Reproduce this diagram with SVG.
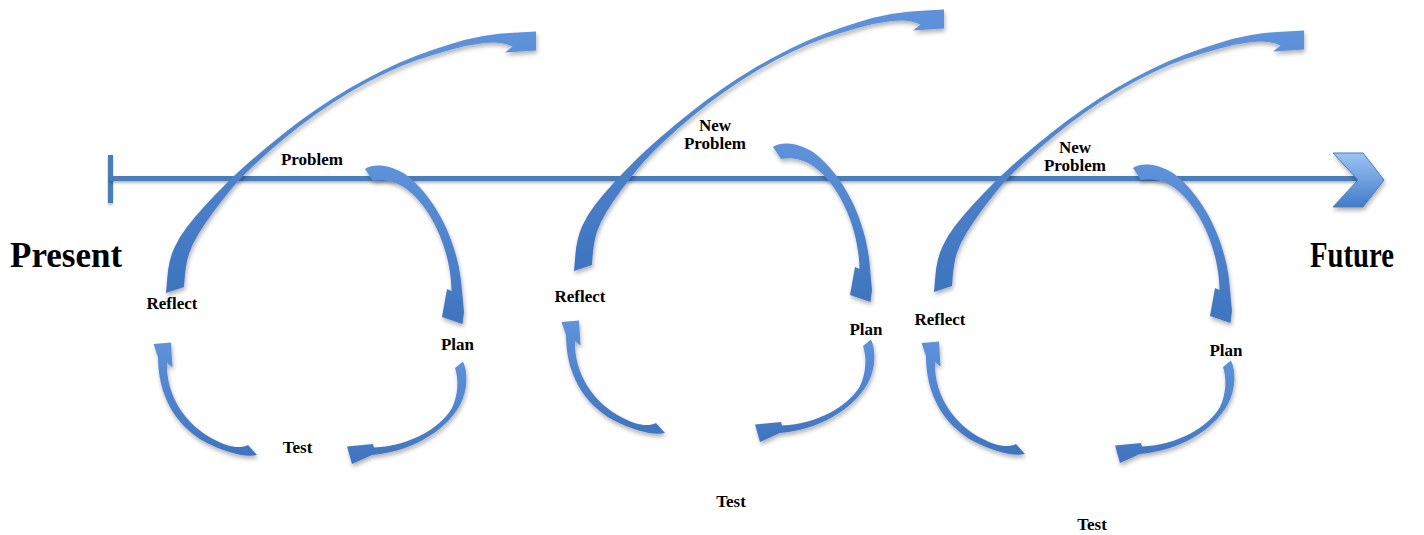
<svg xmlns="http://www.w3.org/2000/svg" xmlns:xlink="http://www.w3.org/1999/xlink" width="1424" height="535" viewBox="0 0 1424 535">
<defs>
<style>
.lbl{font-family:"Liberation Serif","DejaVu Serif",serif;font-weight:bold;font-size:17px;fill:#000;text-anchor:middle}
.big{font-family:"Liberation Serif","DejaVu Serif",serif;font-weight:bold;font-size:35px;fill:#000}
.arrow{fill:url(#ag);filter:url(#sh)}
.tl{fill:#4a7ebb;filter:url(#sh2)}
</style>
<linearGradient id="ag" x1="0" y1="0" x2="0" y2="1">
<stop offset="0" stop-color="#5e92da"/><stop offset="1" stop-color="#3f74bf"/>
</linearGradient>
<linearGradient id="cg" x1="0" y1="0" x2="0" y2="1">
<stop offset="0" stop-color="#9cc4f4"/><stop offset="1" stop-color="#437bca"/>
</linearGradient>
<filter id="sh" x="-20%" y="-20%" width="140%" height="140%">
<feDropShadow dx="1" dy="3" stdDeviation="2" flood-color="#000" flood-opacity="0.3"/>
</filter>
<filter id="sh2" x="-5%" y="-100%" width="110%" height="400%">
<feDropShadow dx="0" dy="2" stdDeviation="1.5" flood-color="#000" flood-opacity="0.3"/>
</filter>
<path id="a-big" d="M166,293 L167.4,276.6 Q168.7,260.2 174.1,248.3 Q179.4,236.4 187.3,226.4 Q195.2,216.4 204.9,205.8 Q214.6,195.1 225.3,184.5 Q235.9,173.9 252.2,159.6 Q268.5,145.3 283.7,133.4 Q298.8,121.4 315.4,110 Q332,98.5 349.1,88.5 Q366.2,78.5 382.7,70.4 Q399.2,62.2 415.7,55.9 Q432.2,49.6 449.3,44.4 Q466.3,39.1 483,36.1 Q499.6,33 518,32.5 L536,31.5 L536,50.5 L505,52.5 L512.5,46.5 Q500.4,41 484,43 Q467.7,44.9 450.8,49.7 Q433.8,54.4 417.3,60.1 Q400.8,65.8 384.3,73.7 Q367.8,81.5 350.9,91.5 Q334,101.5 317.6,113.1 Q301.2,124.6 286.4,136.7 Q271.5,148.7 255.8,163.4 Q240.1,178.1 230.8,189.5 Q221.4,200.9 213.1,212.3 Q204.8,223.6 198.7,233.6 Q192.6,243.6 189,253.7 Q185.3,263.8 184,287 Z"/>
<path id="a-pp" d="M365,169 C371,164 388,163 405,174 C430,192 458,235 462,290 L464,312 L462.5,324 L442,317 L447,289 L451.5,291 C451,250 431,206 405,188 C395,181 383,179 373,181 Z"/>
<path id="a-pt" d="M455,368 L463,361.5 C468,372 468,390 460,405 C445,432 410,452 372,455 L352,464 L347,446.5 L373,444 L374,447.5 C410,446 440,428 452,408 C458,395 459,380 455,368 Z"/>
<path id="a-tr" d="M153.5,344 L171,342.5 L172.5,367.5 L167,363 C166,395 185,425 215,440 C228,447 240,449 248,445 L257,455 C245,458 225,452 205,442 C175,425 158,395 158,357 Z"/>
</defs>

<rect width="1424" height="535" fill="#fff"/>

<g id="timeline">
<rect class="tl" x="108" y="155" width="5" height="48"/>
<rect class="tl" x="110" y="176" width="1250" height="5"/>
<polygon points="1333,153 1363,153 1384,180 1363,207 1333,207 1358,180" fill="url(#cg)" stroke="#4a7ebb" stroke-width="1" filter="url(#sh)"/>
</g>

<g id="connectors">
<g id="cycle-1">
<use id="c1-reflect-next" class="arrow" href="#a-big" xlink:href="#a-big"/>
<use id="c1-problem-plan" class="arrow" href="#a-pp" xlink:href="#a-pp"/>
<use id="c1-plan-test" class="arrow" href="#a-pt" xlink:href="#a-pt"/>
<use id="c1-test-reflect" class="arrow" href="#a-tr" xlink:href="#a-tr"/>
</g>
<g id="cycle-2" transform="translate(408,-22)">
<use id="c2-reflect-next" class="arrow" href="#a-big" xlink:href="#a-big"/>
<use id="c2-problem-plan" class="arrow" href="#a-pp" xlink:href="#a-pp"/>
<use id="c2-plan-test" class="arrow" href="#a-pt" xlink:href="#a-pt"/>
<use id="c2-test-reflect" class="arrow" href="#a-tr" xlink:href="#a-tr"/>
</g>
<g id="cycle-3" transform="translate(768,-1)">
<use id="c3-reflect-next" class="arrow" href="#a-big" xlink:href="#a-big"/>
<use id="c3-problem-plan" class="arrow" href="#a-pp" xlink:href="#a-pp"/>
<use id="c3-plan-test" class="arrow" href="#a-pt" xlink:href="#a-pt"/>
<use id="c3-test-reflect" class="arrow" href="#a-tr" xlink:href="#a-tr"/>
</g>
</g>

<g id="node-present"><text class="big" x="10" y="267">Present</text></g>
<g id="node-future"><text class="big" x="1310" y="267" textLength="84" lengthAdjust="spacingAndGlyphs">Future</text></g>

<g id="node-c1-problem"><text class="lbl" x="312" y="165">Problem</text></g>
<g id="node-c1-plan"><text class="lbl" x="457.5" y="350">Plan</text></g>
<g id="node-c1-test"><text class="lbl" x="297.5" y="453">Test</text></g>
<g id="node-c1-reflect"><text class="lbl" x="172" y="309">Reflect</text></g>

<g id="node-c2-problem"><text class="lbl" x="715" y="131">New</text><text class="lbl" x="715" y="149">Problem</text></g>
<g id="node-c2-plan"><text class="lbl" x="866" y="335">Plan</text></g>
<g id="node-c2-test"><text class="lbl" x="731" y="506.5">Test</text></g>
<g id="node-c2-reflect"><text class="lbl" x="580" y="302">Reflect</text></g>

<g id="node-c3-problem"><text class="lbl" x="1075" y="152.5">New</text><text class="lbl" x="1075" y="171">Problem</text></g>
<g id="node-c3-plan"><text class="lbl" x="1226" y="356">Plan</text></g>
<g id="node-c3-test"><text class="lbl" x="1092" y="530">Test</text></g>
<g id="node-c3-reflect"><text class="lbl" x="940" y="325">Reflect</text></g>
</svg>
